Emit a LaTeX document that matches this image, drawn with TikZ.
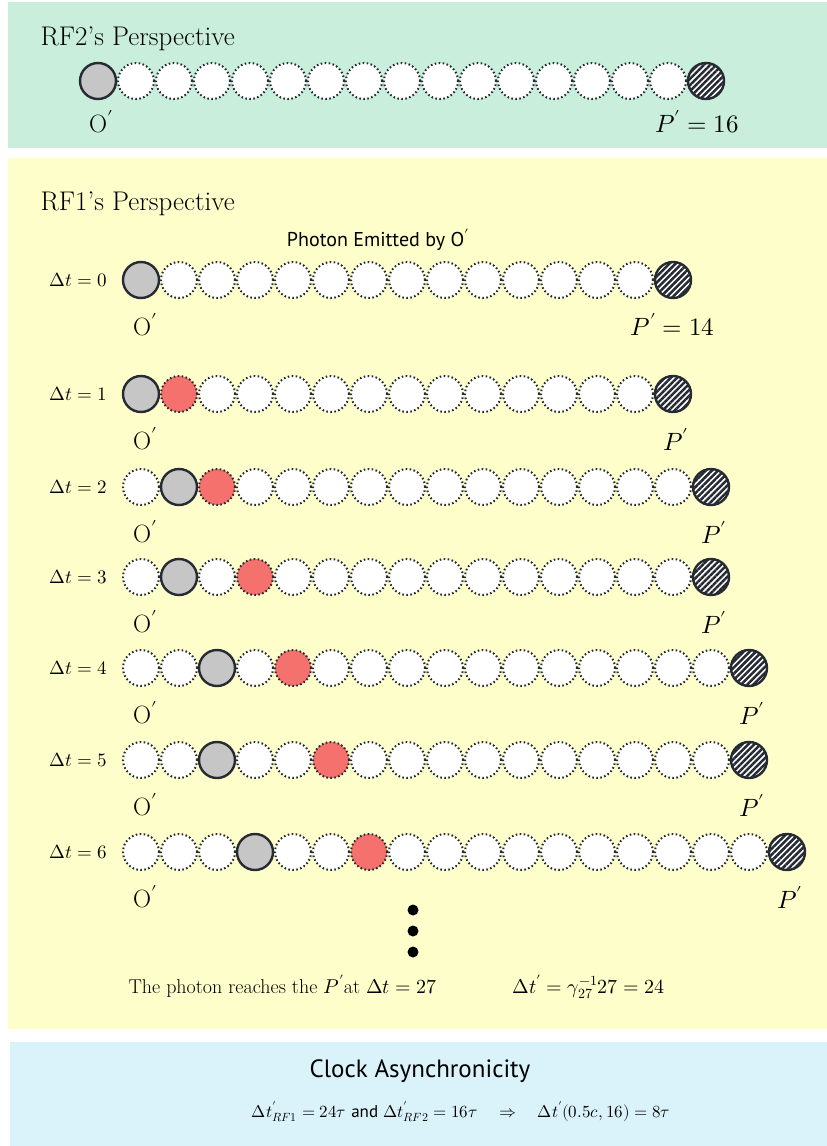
\documentclass[tikz,border=0pt]{standalone}
\usepackage{unicode-math}
\usetikzlibrary{patterns.meta}
\newfontfamily\ptsans{PT Sans}
\definecolor{rftwogreen}{HTML}{C9EEDC}
\definecolor{rfoneyellow}{HTML}{FEFECB}
\definecolor{clockblue}{HTML}{DAF2FA}
\definecolor{obsgray}{HTML}{C6C6C6}
\definecolor{photonred}{HTML}{F4716E}
\definecolor{rimdark}{HTML}{252A33}

\begin{document}
\begin{tikzpicture}[x=1pt, y=-1pt,
  cell/.style={circle, minimum size=36pt, inner sep=0pt, draw=rimdark, line width=2pt, dash pattern=on 1.6pt off 2.4pt, fill=white},
  obs/.style={cell, solid, fill=obsgray, line width=2.4pt},
  photon/.style={cell, fill=photonred},
  target/.style={circle, minimum size=36pt, inner sep=0pt, draw=rimdark, line width=2.4pt, preaction={fill=white}, pattern={Lines[angle=45, distance=4.3pt, line width=2.5pt]}, pattern color=rimdark},
  heading/.style={anchor=base west, font=\fontsize{27}{32}\selectfont},
  dtlabel/.style={anchor=east, font=\fontsize{19}{23}\selectfont},
  lbl/.style={font=\fontsize{25}{30}\selectfont},
  ellip/.style={circle, fill=black, minimum size=11pt, inner sep=0pt},
  note/.style={anchor=base west, font=\fontsize{20}{24}\selectfont}
]
  \fill[white] (0,0) rectangle (827,1146);
  \useasboundingbox (0,0) rectangle (827,1146);

  % Panels
  \fill[rftwogreen] (8,2) rectangle (827,148);
  \fill[rfoneyellow] (8,158) rectangle (827,1029);
  \fill[clockblue] (10,1042) rectangle (827,1146);

  % RF2 view
  \node[heading] (rf2title) at (37,45) {RF2’s Perspective};
  \foreach \k in {1,...,15}
    \node[cell] (top-\k) at ({98+38*\k},81) {};
  \node[obs] (top-0) at (98,81) {};
  \node[target] (top-16) at (706,81) {};
  \node[lbl] (topo) at (101,122) {$\mathrm{O}'$};
  \node[lbl] (topp) at (697,122) {$P' = 16$};

  % RF1 view
  \node[heading] (rf1title) at (37,210) {RF1’s Perspective};
  \node[font=\fontsize{20}{24}\selectfont\ptsans] (emitted) at (378,240) {Photon Emitted by O$'$};
  \foreach \t/\yy/\o [evaluate=\o as \hh using int(\o+14)] in {0/280/0, 1/394/0, 2/487/1, 3/577/1, 4/668/2, 5/760/2, 6/852/3} {
    \foreach \k in {0,...,\hh} {
      \ifnum\k=\o \def\kind{obs}\else\ifnum\k=\t \def\kind{photon}\else\ifnum\k=\hh \def\kind{target}\else\def\kind{cell}\fi\fi\fi
      \node[\kind] (r\t-\k) at ({141+38*\k},\yy) {};
    }
    \node[dtlabel] (dt\t) at (111,\yy) {$\Delta t = \t$};
    \node[lbl] (o\t) at (145,\yy+45) {$\mathrm{O}'$};
    \ifnum\t>0 \node[lbl] (p\t) at ({144+38*\hh},\yy+45) {$P'$}; \fi
  }
  \node[lbl, anchor=west] (p0) at (627,324) {$P' = 14$};

  % Later steps
  \foreach \i/\yy in {1/910, 2/931, 3/952}
    \node[ellip] (dots\i) at (413,\yy) {};
  \node[note] (reach) at (125,993) {The photon reaches the $P'$at $\Delta t = 27$};
  \node[note] (local) at (509,993) {$\Delta t' = \gamma_{27}^{-1}27 = 24$};

  % Summary
  \node[font=\fontsize{25}{30}\selectfont\ptsans] (clock) at (420,1071) {Clock Asynchronicity};
  \node[font=\fontsize{17}{21}\selectfont] (result) at (461,1112)
    {$\Delta t'_{RF1} = 24\tau$ {\ptsans and} $\Delta t'_{RF2} = 16\tau \quad\Rightarrow\quad \Delta t'(0.5c, 16) = 8\tau$};
\end{tikzpicture}
\end{document}
